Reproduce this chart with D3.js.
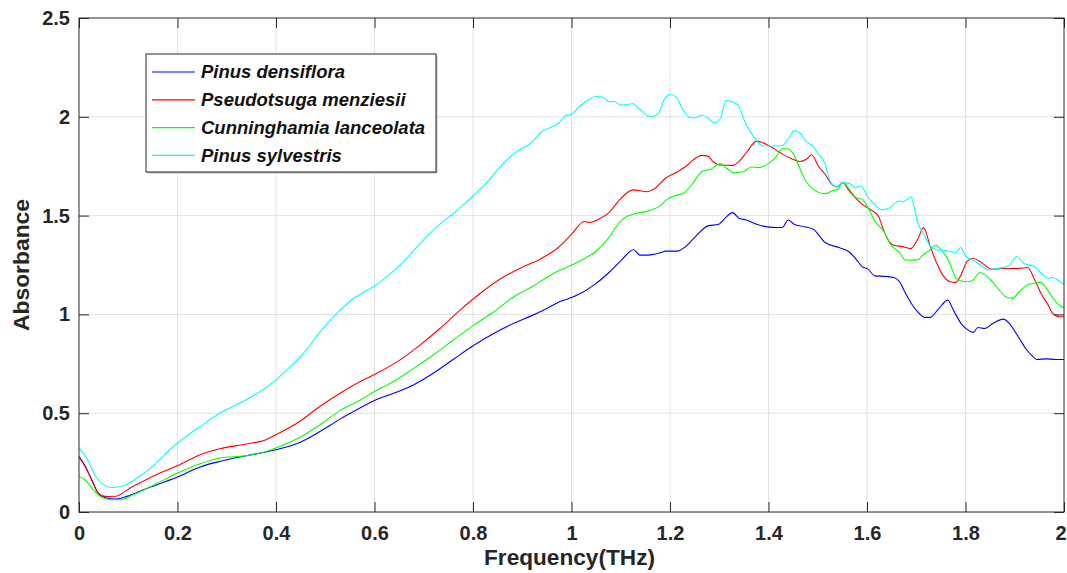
<!DOCTYPE html>
<html>
<head>
<meta charset="utf-8">
<script src="https://cdn.jsdelivr.net/npm/d3@7"></script>
<style>
    html, body { margin: 0; padding: 0; background: #fff; }
    svg { display: block; font-family: "Liberation Sans", Arial, sans-serif; }
</style>
</head>
<body>
<div id="chart"></div>
<script>
/* ============================================
   THz absorbance spectra of four wood species
   ============================================ */

// Ejes
const xTicks = [0, 0.2, 0.4, 0.6, 0.8, 1, 1.2, 1.4, 1.6, 1.8, 2];
const xTickLabels = ['0', '0.2', '0.4', '0.6', '0.8', '1', '1.2', '1.4', '1.6', '1.8', '2'];
const yTicks = [0, 0.5, 1, 1.5, 2, 2.5];
const yTickLabels = ['0', '0.5', '1', '1.5', '2', '2.5'];

// Nombres de las series (mismo orden que la leyenda)
const speciesNames = ['Pinus densiflora', 'Pseudotsuga menziesii', 'Cunninghamia lanceolata', 'Pinus sylvestris'];
const speciesColors = ['#0000ff', '#ff0000', '#00ff00', '#00ffff'];

// [frecuencia THz, absorbancia]
const pinusDensiflora = [
    [0, 0.281], [0.0122, 0.234], [0.0257, 0.163], [0.039, 0.096], [0.056, 0.071], [0.073, 0.066],
    [0.097, 0.079], [0.131, 0.113], [0.2, 0.177], [0.246, 0.228], [0.286, 0.256], [0.34, 0.285],
    [0.4, 0.315], [0.448, 0.352], [0.489, 0.407], [0.53, 0.47], [0.564, 0.517], [0.6, 0.564],
    [0.639, 0.601], [0.68, 0.644], [0.72, 0.703], [0.761, 0.774], [0.8, 0.841], [0.843, 0.905],
    [0.884, 0.956], [0.916, 0.99], [0.95, 1.03], [0.978, 1.066], [1.0, 1.085], [1.02, 1.108],
    [1.048, 1.153], [1.076, 1.212], [1.10, 1.271], [1.126, 1.327], [1.139, 1.3], [1.153, 1.3],
    [1.174, 1.308], [1.194, 1.32], [1.215, 1.32], [1.229, 1.338], [1.25, 1.389], [1.277, 1.448],
    [1.299, 1.456], [1.313, 1.49], [1.327, 1.515], [1.341, 1.485], [1.355, 1.478], [1.376, 1.456],
    [1.397, 1.443], [1.417, 1.44], [1.428, 1.44], [1.44, 1.478], [1.452, 1.456], [1.473, 1.444],
    [1.491, 1.431], [1.515, 1.364], [1.543, 1.338], [1.564, 1.316], [1.578, 1.279], [1.59, 1.242],
    [1.602, 1.229], [1.616, 1.195], [1.64, 1.192], [1.654, 1.187], [1.665, 1.17], [1.679, 1.103],
    [1.693, 1.044], [1.707, 1.002], [1.717, 0.985], [1.728, 0.985], [1.745, 1.027], [1.764, 1.072],
    [1.776, 1.018], [1.792, 0.951], [1.804, 0.923], [1.816, 0.909], [1.825, 0.934], [1.839, 0.929],
    [1.856, 0.955], [1.877, 0.976], [1.89, 0.951], [1.905, 0.896], [1.923, 0.825], [1.937, 0.786],
    [1.945, 0.772], [1.965, 0.775], [1.982, 0.772], [2.0, 0.772]
];

const pseudotsugaMenziesii = [
    [0, 0.278], [0.0122, 0.231], [0.0257, 0.163], [0.039, 0.096], [0.053, 0.079], [0.07, 0.077],
    [0.11, 0.13], [0.157, 0.189], [0.2, 0.234], [0.246, 0.29], [0.286, 0.32], [0.34, 0.344],
    [0.38, 0.366], [0.4, 0.391], [0.448, 0.458], [0.489, 0.534], [0.53, 0.601], [0.571, 0.66],
    [0.6116, 0.711], [0.652, 0.77], [0.693, 0.846], [0.734, 0.931], [0.775, 1.024], [0.8156, 1.108],
    [0.856, 1.18], [0.897, 1.235], [0.938, 1.282], [0.972, 1.336], [1.0, 1.405], [1.026, 1.47],
    [1.038, 1.465], [1.055, 1.481], [1.076, 1.515], [1.10, 1.586], [1.125, 1.63], [1.153, 1.621],
    [1.167, 1.633], [1.191, 1.689], [1.215, 1.722], [1.233, 1.751], [1.249, 1.785], [1.264, 1.805],
    [1.277, 1.801], [1.288, 1.771], [1.302, 1.756], [1.327, 1.754], [1.341, 1.776], [1.355, 1.818],
    [1.376, 1.877], [1.40, 1.855], [1.424, 1.818], [1.445, 1.79], [1.463, 1.774], [1.477, 1.785],
    [1.488, 1.808], [1.501, 1.751], [1.515, 1.709], [1.527, 1.663], [1.539, 1.645], [1.551, 1.667],
    [1.564, 1.625], [1.578, 1.586], [1.592, 1.554], [1.609, 1.527], [1.623, 1.498], [1.633, 1.431],
    [1.644, 1.372], [1.654, 1.35], [1.672, 1.343], [1.689, 1.333], [1.703, 1.38], [1.715, 1.439],
    [1.728, 1.347], [1.741, 1.263], [1.755, 1.195], [1.769, 1.165], [1.78, 1.162], [1.79, 1.195],
    [1.804, 1.271], [1.816, 1.283], [1.832, 1.263], [1.853, 1.229], [1.877, 1.232], [1.905, 1.232],
    [1.926, 1.237], [1.94, 1.178], [1.954, 1.103], [1.968, 1.047], [1.978, 1.002], [1.992, 0.988],
    [2.0, 0.988]
];

const cunninghamiaLanceolata = [
    [0, 0.18], [0.0122, 0.163], [0.029, 0.113], [0.043, 0.079], [0.063, 0.062], [0.083, 0.062],
    [0.11, 0.087], [0.157, 0.143], [0.2, 0.197], [0.246, 0.244], [0.286, 0.273], [0.34, 0.285],
    [0.38, 0.306], [0.4, 0.324], [0.448, 0.377], [0.489, 0.441], [0.53, 0.513], [0.571, 0.566],
    [0.6, 0.61], [0.639, 0.66], [0.68, 0.728], [0.72, 0.796], [0.761, 0.872], [0.8, 0.943],
    [0.843, 1.015], [0.884, 1.091], [0.92, 1.14], [0.95, 1.187], [0.965, 1.209], [0.985, 1.232],
    [1.003, 1.252], [1.027, 1.283], [1.048, 1.316], [1.076, 1.389], [1.097, 1.465], [1.114, 1.498],
    [1.139, 1.515], [1.167, 1.532], [1.18, 1.549], [1.194, 1.582], [1.208, 1.599], [1.229, 1.616],
    [1.247, 1.667], [1.264, 1.721], [1.285, 1.737], [1.302, 1.763], [1.316, 1.737], [1.33, 1.717],
    [1.348, 1.721], [1.365, 1.746], [1.379, 1.743], [1.40, 1.763], [1.414, 1.793], [1.428, 1.838],
    [1.438, 1.838], [1.451, 1.81], [1.463, 1.742], [1.477, 1.67], [1.491, 1.633], [1.515, 1.611],
    [1.529, 1.625], [1.541, 1.633], [1.551, 1.67], [1.564, 1.633], [1.578, 1.591], [1.59, 1.582],
    [1.602, 1.54], [1.616, 1.473], [1.633, 1.423], [1.651, 1.343], [1.665, 1.316], [1.679, 1.274],
    [1.702, 1.276], [1.717, 1.308], [1.728, 1.325], [1.739, 1.35], [1.752, 1.322], [1.766, 1.271],
    [1.78, 1.187], [1.79, 1.17], [1.804, 1.165], [1.816, 1.175], [1.829, 1.212], [1.85, 1.178],
    [1.867, 1.128], [1.881, 1.091], [1.895, 1.081], [1.909, 1.114], [1.926, 1.15], [1.94, 1.158],
    [1.953, 1.162], [1.965, 1.128], [1.978, 1.081], [1.992, 1.044], [2.0, 1.035]
];

const pinusSylvestris = [
    [0, 0.324], [0.0155, 0.273], [0.036, 0.172], [0.066, 0.124], [0.09, 0.133], [0.131, 0.194],
    [0.2, 0.349], [0.246, 0.433], [0.286, 0.50], [0.34, 0.568], [0.4, 0.669], [0.422, 0.719],
    [0.456, 0.804], [0.49, 0.913], [0.524, 1.006], [0.558, 1.082], [0.6, 1.144], [0.632, 1.205],
    [0.659, 1.267], [0.693, 1.36], [0.727, 1.444], [0.761, 1.512], [0.8, 1.6], [0.829, 1.67],
    [0.856, 1.75], [0.89, 1.826], [0.914, 1.86], [0.941, 1.927], [0.975, 1.97], [0.989, 2.007],
    [1.0, 2.012], [1.013, 2.045], [1.027, 2.074], [1.052, 2.104], [1.066, 2.096], [1.077, 2.076],
    [1.086, 2.079], [1.10, 2.059], [1.125, 2.066], [1.139, 2.037], [1.153, 2.007], [1.163, 2.0],
    [1.177, 2.017], [1.188, 2.088], [1.201, 2.113], [1.214, 2.096], [1.226, 2.037], [1.24, 1.998],
    [1.25, 1.995], [1.264, 2.008], [1.278, 1.992], [1.29, 1.970], [1.302, 1.99], [1.314, 2.082],
    [1.337, 2.062], [1.353, 1.97], [1.369, 1.902], [1.39, 1.852], [1.407, 1.852], [1.428, 1.855],
    [1.442, 1.894], [1.452, 1.931], [1.463, 1.919], [1.479, 1.869], [1.489, 1.855], [1.501, 1.813],
    [1.514, 1.768], [1.525, 1.675], [1.539, 1.645], [1.551, 1.667], [1.564, 1.663], [1.576, 1.641],
    [1.588, 1.65], [1.602, 1.594], [1.616, 1.557], [1.63, 1.529], [1.644, 1.537], [1.665, 1.574],
    [1.675, 1.571], [1.689, 1.596], [1.703, 1.465], [1.717, 1.397], [1.728, 1.347], [1.741, 1.327],
    [1.762, 1.322], [1.78, 1.313], [1.79, 1.338], [1.80, 1.296], [1.815, 1.274], [1.829, 1.254],
    [1.846, 1.226], [1.863, 1.232], [1.888, 1.246], [1.904, 1.293], [1.918, 1.259], [1.94, 1.242],
    [1.954, 1.207], [1.968, 1.183], [1.978, 1.187], [1.992, 1.165], [2.0, 1.153]
];

const allSeries = [pinusDensiflora, pseudotsugaMenziesii, cunninghamiaLanceolata, pinusSylvestris];

// Dimensiones
const width = 1067;
const height = 573;
const margin = { top: 18, right: 3, bottom: 61, left: 79 };
const innerW = width - margin.left - margin.right;
const innerH = height - margin.top - margin.bottom;
const axisColor = '#262626';

const svg = d3.select('#chart').append('svg')
    .attr('width', width)
    .attr('height', height);

const g = svg.append('g').attr('transform', `translate(${margin.left},${margin.top})`);

const x = d3.scaleLinear().domain([0, 2]).range([0, innerW]);
const y = d3.scaleLinear().domain([0, 2.5]).range([innerH, 0]);

// Rejilla
g.append('g').selectAll('line')
    .data(xTicks.slice(1, -1))
    .enter().append('line')
    .attr('x1', d => x(d)).attr('x2', d => x(d))
    .attr('y1', 0).attr('y2', innerH)
    .attr('stroke', '#e1e1e1').attr('stroke-width', 1);

g.append('g').selectAll('line')
    .data(yTicks.slice(1, -1))
    .enter().append('line')
    .attr('x1', 0).attr('x2', innerW)
    .attr('y1', d => y(d)).attr('y2', d => y(d))
    .attr('stroke', '#e1e1e1').attr('stroke-width', 1);

// Curvas
g.append('clipPath').attr('id', 'plot-clip')
    .append('rect').attr('width', innerW).attr('height', innerH);

const line = d3.line()
    .x(d => x(d[0]))
    .y(d => y(d[1]))
    .curve(d3.curveMonotoneX);

g.append('g').attr('clip-path', 'url(#plot-clip)')
    .selectAll('path')
    .data(allSeries)
    .enter().append('path')
    .attr('fill', 'none')
    .attr('stroke', (d, i) => speciesColors[i])
    .attr('stroke-width', 1.1)
    .attr('stroke-linejoin', 'round')
    .attr('d', line);

// Ejes (ticks hacia dentro, estilo MATLAB)
function styleAxis(sel) {
    sel.select('.domain').remove();
    sel.selectAll('line').attr('stroke', axisColor);
    sel.selectAll('text')
        .attr('fill', axisColor)
        .attr('font-size', '20px')
        .attr('font-weight', 'bold');
}

const xAxisG = g.append('g')
    .attr('transform', `translate(0,${innerH})`)
    .call(d3.axisBottom(x).tickValues(xTicks).tickFormat((d, i) => xTickLabels[i]).tickSize(-10).tickPadding(14))
    .call(styleAxis);

// la última etiqueta queda pegada al borde
xAxisG.selectAll('.tick').filter(d => d === 2).select('text').attr('dx', -3.5);

g.append('g')
    .call(d3.axisTop(x).tickValues(xTicks).tickFormat('').tickSize(-10))
    .call(styleAxis);

g.append('g')
    .call(d3.axisLeft(y).tickValues(yTicks).tickFormat((d, i) => yTickLabels[i]).tickSize(-10).tickPadding(9))
    .call(styleAxis);

g.append('g')
    .attr('transform', `translate(${innerW},0)`)
    .call(d3.axisRight(y).tickValues(yTicks).tickFormat('').tickSize(-10))
    .call(styleAxis);

g.append('rect')
    .attr('width', innerW).attr('height', innerH)
    .attr('fill', 'none')
    .attr('stroke', axisColor)
    .attr('stroke-width', 1);

// Títulos de ejes
svg.append('text')
    .attr('x', 569.5)
    .attr('y', 565)
    .attr('text-anchor', 'middle')
    .attr('font-size', '22px')
    .attr('font-weight', 'bold')
    .attr('fill', axisColor)
    .attr('textLength', 171)
    .attr('lengthAdjust', 'spacingAndGlyphs')
    .text('Frequency(THz)');

svg.append('text')
    .attr('transform', `translate(29,${margin.top + innerH / 2}) rotate(-90)`)
    .attr('text-anchor', 'middle')
    .attr('font-size', '22px')
    .attr('font-weight', 'bold')
    .attr('fill', axisColor)
    .attr('textLength', 132)
    .attr('lengthAdjust', 'spacingAndGlyphs')
    .text('Absorbance');

// Leyenda
const legend = svg.append('g').attr('transform', 'translate(146,54)');

legend.append('rect')
    .attr('x', 1.5).attr('y', 1.5)
    .attr('width', 290).attr('height', 118)
    .attr('fill', '#bdbdbd');

legend.append('rect')
    .attr('width', 290).attr('height', 118)
    .attr('fill', '#fff')
    .attr('stroke', axisColor)
    .attr('stroke-width', 1);

const item = legend.selectAll('.item')
    .data(speciesNames)
    .enter().append('g')
    .attr('class', 'item')
    .attr('transform', (d, i) => `translate(0,${18 + i * 27.8})`);

item.append('line')
    .attr('x1', 6).attr('x2', 49)
    .attr('y1', 0).attr('y2', 0)
    .attr('stroke', (d, i) => speciesColors[i])
    .attr('stroke-width', 1.2);

item.append('text')
    .attr('x', 55)
    .attr('y', 0)
    .attr('dy', '0.35em')
    .attr('font-size', '18.5px')
    .attr('font-weight', 'bold')
    .attr('font-style', 'italic')
    .attr('fill', '#111')
    .text(d => d);
</script>
</body>
</html>
